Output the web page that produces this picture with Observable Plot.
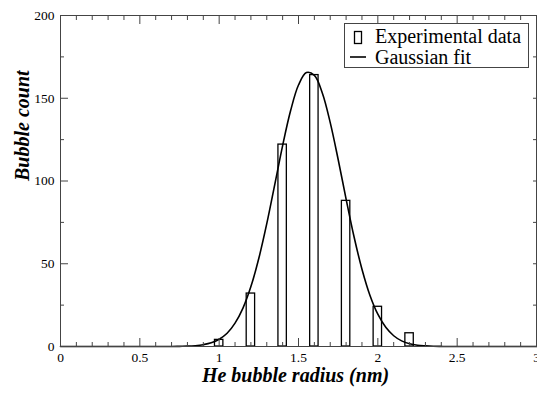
<!DOCTYPE html>
<html><head><meta charset="utf-8">
<script src="https://cdn.jsdelivr.net/npm/d3@7"></script>
<script src="https://cdn.jsdelivr.net/npm/@observablehq/plot@0.6"></script>
<style>body{margin:0;background:#fff} #chart{width:537px;height:393px}</style>
</head><body><div id="chart"></div>
<script>
// Experimental histogram
const radius = [1.0, 1.2, 1.4, 1.6, 1.8, 2.0, 2.2];
const counts = [4, 32, 122, 164, 88, 24, 8];
// Gaussian fit curve
const fitX = [0, 0.7, 0.75, 0.8, 0.85, 0.9, 0.95, 1.0, 1.05, 1.1, 1.15, 1.2, 1.25, 1.3, 1.35, 1.4, 1.45, 1.5, 1.55, 1.6, 1.65, 1.7, 1.75, 1.8, 1.85, 1.9, 1.95, 2.0, 2.05, 2.1, 2.15, 2.2, 2.25, 2.3, 2.35, 2.4, 2.45, 3];
const fitY = [0, 0, 0.1, 0.2, 0.5, 1.1, 2.2, 4.4, 8.0, 14.1, 23.2, 36.2, 53.3, 74.2, 97.7, 121.4, 142.4, 158, 165.5, 163.8, 153.2, 135.3, 113, 89.1, 66.3, 46.7, 31.0, 19.5, 11.6, 6.5, 3.4, 1.7, 0.8, 0.4, 0.15, 0.06, 0, 0];
// Ticks
const xMajor = [0, 0.5, 1, 1.5, 2, 2.5, 3];
const xMinor = [0.1, 0.2, 0.3, 0.4, 0.6, 0.7, 0.8, 0.9, 1.1, 1.2, 1.3, 1.4, 1.6, 1.7, 1.8, 1.9, 2.1, 2.2, 2.3, 2.4, 2.6, 2.7, 2.8, 2.9];
const yMajor = [0, 50, 100, 150, 200];
const yMinor = [25, 75, 125, 175];
const yRight = [25, 50, 75, 100, 125, 150, 175];
const xTitle = "He bubble radius (nm)";
const yTitle = "Bubble count";
const legendLabels = ["Experimental data", "Gaussian fit"];

const halfBar = 0.0265;
const serif = "'Liberation Serif','Times New Roman',serif";
const axisColor = "#444";

const bars = radius.map((r, i) => ({r, c: counts[i]}));
const fit = fitX.map((x, i) => ({x, y: fitY[i]}));

const svg = Plot.plot({
  width: 537, height: 393,
  marginLeft: 60, marginRight: 1, marginTop: 15, marginBottom: 47,
  style: {fontFamily: serif, fontSize: "13px", color: "#000", background: "#fff"},
  x: {domain: [0, 3]},
  y: {domain: [0, 200]},
  marks: [
    Plot.rect(bars, {x1: d => d.r - halfBar, x2: d => d.r + halfBar, y1: 0, y2: "c", fill: "none", stroke: "#000", strokeWidth: 1.3}),
    Plot.line(fit, {x: "x", y: "y", curve: "catmull-rom", stroke: "#000", strokeWidth: 1.6}),
    Plot.frame({stroke: axisColor}),
    // inward ticks
    Plot.axisX(xMajor, {anchor: "bottom", tickSize: -8, tickFormat: () => "", label: null, stroke: axisColor}),
    Plot.axisX(xMinor, {anchor: "bottom", tickSize: -4, tickFormat: () => "", label: null, stroke: axisColor}),
    Plot.axisX(xMajor, {anchor: "top", tickSize: -8, tickFormat: () => "", label: null, stroke: axisColor}),
    Plot.axisX(xMinor, {anchor: "top", tickSize: -4, tickFormat: () => "", label: null, stroke: axisColor}),
    Plot.axisY(yMajor, {anchor: "left", tickSize: -8, tickFormat: () => "", label: null, stroke: axisColor}),
    Plot.axisY(yMinor, {anchor: "left", tickSize: -4, tickFormat: () => "", label: null, stroke: axisColor}),
    Plot.axisY(yRight, {anchor: "right", tickSize: -4, tickFormat: () => "", label: null, stroke: axisColor}),
    // tick labels
    Plot.axisX(xMajor, {anchor: "bottom", tickSize: 0, tickPadding: 6, tickFormat: d => String(d), label: null, fontSize: 13.5, fontFamily: serif}),
    Plot.axisY(yMajor, {anchor: "left", tickSize: 0, tickPadding: 6, tickFormat: d => String(d), label: null, fontSize: 13.5, fontFamily: serif}),
    // titles
    Plot.text([xTitle], {frameAnchor: "bottom", dy: 35.5, dx: -3, text: d => d, fontSize: 20, fontWeight: "bold", fontStyle: "italic", fontFamily: serif, fill: "#000"}),
    Plot.text([yTitle], {frameAnchor: "left", dx: -38.4, text: d => d, rotate: -90, fontSize: 20, fontWeight: "bold", fontStyle: "italic", fontFamily: serif, fill: "#000"})
  ]
});

// legend box drawn into the same svg
const s = d3.select(svg);
const g = s.append("g").attr("font-family", serif).attr("font-size", 20).attr("text-anchor", "start");
g.append("rect").attr("x", 344.5).attr("y", 23.5).attr("width", 184).attr("height", 44)
  .attr("fill", "#fff").attr("stroke", axisColor).attr("stroke-width", 1);
g.append("rect").attr("x", 354.5).attr("y", 31.5).attr("width", 7).attr("height", 12)
  .attr("fill", "none").attr("stroke", "#000").attr("stroke-width", 1.3);
g.append("line").attr("x1", 350).attr("x2", 366).attr("y1", 57).attr("y2", 57)
  .attr("stroke", "#000").attr("stroke-width", 1.6);
g.append("text").attr("x", 375).attr("y", 42.5).attr("fill", "#000").attr("text-anchor", "start").text(legendLabels[0]);
g.append("text").attr("x", 375).attr("y", 64).attr("fill", "#000").attr("text-anchor", "start").text(legendLabels[1]);

document.getElementById("chart").appendChild(svg);
</script>
</body></html>
